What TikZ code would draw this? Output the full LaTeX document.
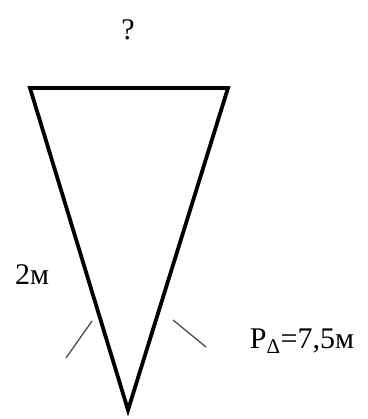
\documentclass[tikz,border=0pt]{standalone}
\usepackage{fontspec}
\setmainfont{Liberation Serif}
\begin{document}
\begin{tikzpicture}[x=1pt,y=-1pt,
  side/.style={line width=3.8pt,line join=miter},
  tick/.style={line width=1.3pt,color=black!70},
  lbl/.style={inner sep=0pt,font=\fontsize{30}{32}\selectfont}]
\useasboundingbox (0,0) rectangle (367,419);
\coordinate (A) at (30,88);
\coordinate (B) at (228,88);
\coordinate (C) at (128,410);
\draw[side] (A) -- (B) -- (C) -- cycle;
\coordinate (t1a) at (92,321); \coordinate (t1b) at (66,358);
\coordinate (t2a) at (173,320); \coordinate (t2b) at (206,347);
\draw[tick] (t1a) -- (t1b);
\draw[tick] (t2a) -- (t2b);
\node[lbl] (q) at (128,30) {?};
\node[lbl] (s) at (32,275) {2м};
\node[lbl] (p) at (302,341) {P\textsubscript{Δ}=7,5м};
\end{tikzpicture}
\end{document}
